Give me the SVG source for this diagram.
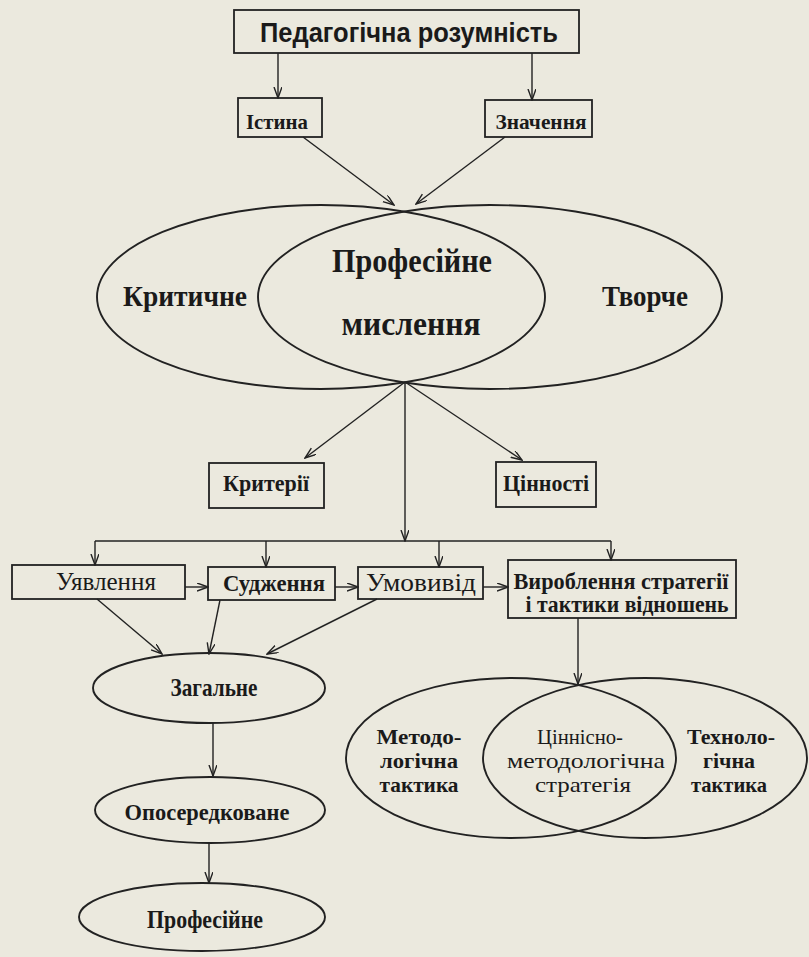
<svg xmlns="http://www.w3.org/2000/svg" width="809" height="957" viewBox="0 0 809 957">
<defs>
<style>
.bg{fill:#ebe9de}
.box{fill:none;stroke:#222;stroke-width:1.8}
.ell{fill:none;stroke:#222;stroke-width:1.9}
.c{fill:none;stroke:#222;stroke-width:1.4}
.a{marker-end:url(#arr)}
text{fill:#1a1a1a;text-anchor:middle;font-family:"Liberation Serif","Times New Roman",serif}
.sans{font-family:"Liberation Sans",Arial,sans-serif;font-weight:bold}
.b{font-weight:bold}
</style>
<marker id="arr" markerUnits="userSpaceOnUse" markerWidth="12" markerHeight="10" refX="11" refY="4" orient="auto">
<path d="M0,0 L11,4 L0,8" fill="none" stroke="#222" stroke-width="1.4"/>
</marker>
</defs>
<rect class="bg" x="0" y="0" width="809" height="957"/>

<g id="connectors">
<path class="c a" d="M278,53 L278,98"/>
<path class="c a" d="M532,53 L532,100"/>
<path class="c a" d="M303,137 L394,205"/>
<path class="c a" d="M505,137 L416,204"/>
<path class="c a" d="M405,382 L305,458"/>
<path class="c a" d="M405,382 L522,460"/>
<path class="c a" d="M405,382 L405,541"/>
<path class="c" d="M95,541 L611,541"/>
<path class="c a" d="M95,541 L95,565"/>
<path class="c a" d="M266,541 L266,567"/>
<path class="c a" d="M439,541 L439,567"/>
<path class="c a" d="M611,541 L611,560"/>
<path class="c a" d="M185,587 L208,587"/>
<path class="c a" d="M335,587 L358,587"/>
<path class="c a" d="M483,587 L508,587"/>
<path class="c a" d="M97,599 L162,654"/>
<path class="c a" d="M220,600 L209,654"/>
<path class="c a" d="M377,599 L267,654"/>
<path class="c a" d="M213,723 L213,776"/>
<path class="c a" d="M209,843 L209,883"/>
<path class="c a" d="M578,618 L578,684"/>
</g>

<g id="n-rozumnist">
<rect class="box" x="234" y="10" width="345" height="43"/>
<text class="sans" x="409" y="42" font-size="28" textLength="298" lengthAdjust="spacingAndGlyphs">Педагогічна розумність</text>
</g>
<g id="n-istyna">
<rect class="box" x="238" y="98" width="84" height="39"/>
<text class="b" x="277" y="129" font-size="21" textLength="62" lengthAdjust="spacingAndGlyphs">Істина</text>
</g>
<g id="n-znachennia">
<rect class="box" x="485" y="100" width="107" height="37"/>
<text class="b" x="541" y="129" font-size="22" textLength="91" lengthAdjust="spacingAndGlyphs">Значення</text>
</g>

<g id="n-myslennia">
<ellipse class="ell" cx="321" cy="297" rx="224" ry="92"/>
<ellipse class="ell" cx="490" cy="297" rx="232" ry="92"/>
<text class="b" x="185" y="306" font-size="30" textLength="124" lengthAdjust="spacingAndGlyphs">Критичне</text>
<text class="b" x="645" y="306" font-size="30" textLength="86" lengthAdjust="spacingAndGlyphs">Творче</text>
<text class="b" x="412" y="272" font-size="33" textLength="160" lengthAdjust="spacingAndGlyphs">Професійне</text>
<text class="b" x="411" y="335" font-size="33" textLength="139" lengthAdjust="spacingAndGlyphs">мислення</text>
</g>

<g id="n-kryterii">
<rect class="box" x="209" y="463" width="115" height="45"/>
<text class="b" x="266" y="491" font-size="24" textLength="86" lengthAdjust="spacingAndGlyphs">Критерії</text>
</g>
<g id="n-tsinnosti">
<rect class="box" x="496" y="462" width="100" height="45"/>
<text class="b" x="546" y="491" font-size="24" textLength="86" lengthAdjust="spacingAndGlyphs">Цінності</text>
</g>

<g id="n-uiavlennia">
<rect class="box" x="12" y="565" width="173" height="34"/>
<text x="106" y="590" font-size="25" textLength="100" lengthAdjust="spacingAndGlyphs">Уявлення</text>
</g>
<g id="n-sudzhennia">
<rect class="box" x="208" y="567" width="127" height="33"/>
<text class="b" x="274" y="591" font-size="24" textLength="102" lengthAdjust="spacingAndGlyphs">Судження</text>
</g>
<g id="n-umovyvid">
<rect class="box" x="358" y="567" width="125" height="32"/>
<text x="421" y="591" font-size="25" textLength="110" lengthAdjust="spacingAndGlyphs">Умовивід</text>
</g>
<g id="n-vyroblennia">
<rect class="box" x="508" y="560" width="228" height="58"/>
<text class="b" x="621" y="589" font-size="23" textLength="215" lengthAdjust="spacingAndGlyphs">Вироблення стратегії</text>
<text class="b" x="627" y="612" font-size="23" textLength="203" lengthAdjust="spacingAndGlyphs">і тактики  відношень</text>
</g>

<g id="n-zahalne">
<ellipse class="ell" cx="209" cy="688" rx="116" ry="35"/>
<text class="b" x="214" y="696" font-size="25" textLength="87" lengthAdjust="spacingAndGlyphs">Загальне</text>
</g>
<g id="n-oposeredkovane">
<ellipse class="ell" cx="210" cy="810" rx="115" ry="33"/>
<text class="b" x="207" y="820" font-size="24" textLength="165" lengthAdjust="spacingAndGlyphs">Опосередковане</text>
</g>
<g id="n-profesiine">
<ellipse class="ell" cx="202" cy="917" rx="123" ry="34"/>
<text class="b" x="205" y="928" font-size="25" textLength="116" lengthAdjust="spacingAndGlyphs">Професійне</text>
</g>

<g id="n-stratehiia">
<ellipse class="ell" cx="511" cy="758" rx="165" ry="80"/>
<ellipse class="ell" cx="645" cy="758" rx="162" ry="80"/>
<text class="b" x="419" y="744" font-size="22" textLength="85" lengthAdjust="spacingAndGlyphs">Методо-</text>
<text class="b" x="419" y="768" font-size="22" textLength="78" lengthAdjust="spacingAndGlyphs">логічна</text>
<text class="b" x="419" y="792" font-size="22" textLength="79" lengthAdjust="spacingAndGlyphs">тактика</text>
<text x="580" y="744" font-size="22" textLength="86" lengthAdjust="spacingAndGlyphs">Ціннісно-</text>
<text x="586" y="768" font-size="22" textLength="158" lengthAdjust="spacingAndGlyphs">методологічна</text>
<text x="583" y="792" font-size="22" textLength="96" lengthAdjust="spacingAndGlyphs">стратегія</text>
<text class="b" x="731" y="744" font-size="22" textLength="88" lengthAdjust="spacingAndGlyphs">Техноло-</text>
<text class="b" x="729" y="768" font-size="22">гічна</text>
<text class="b" x="729" y="792" font-size="22" textLength="76" lengthAdjust="spacingAndGlyphs">тактика</text>
</g>
</svg>
